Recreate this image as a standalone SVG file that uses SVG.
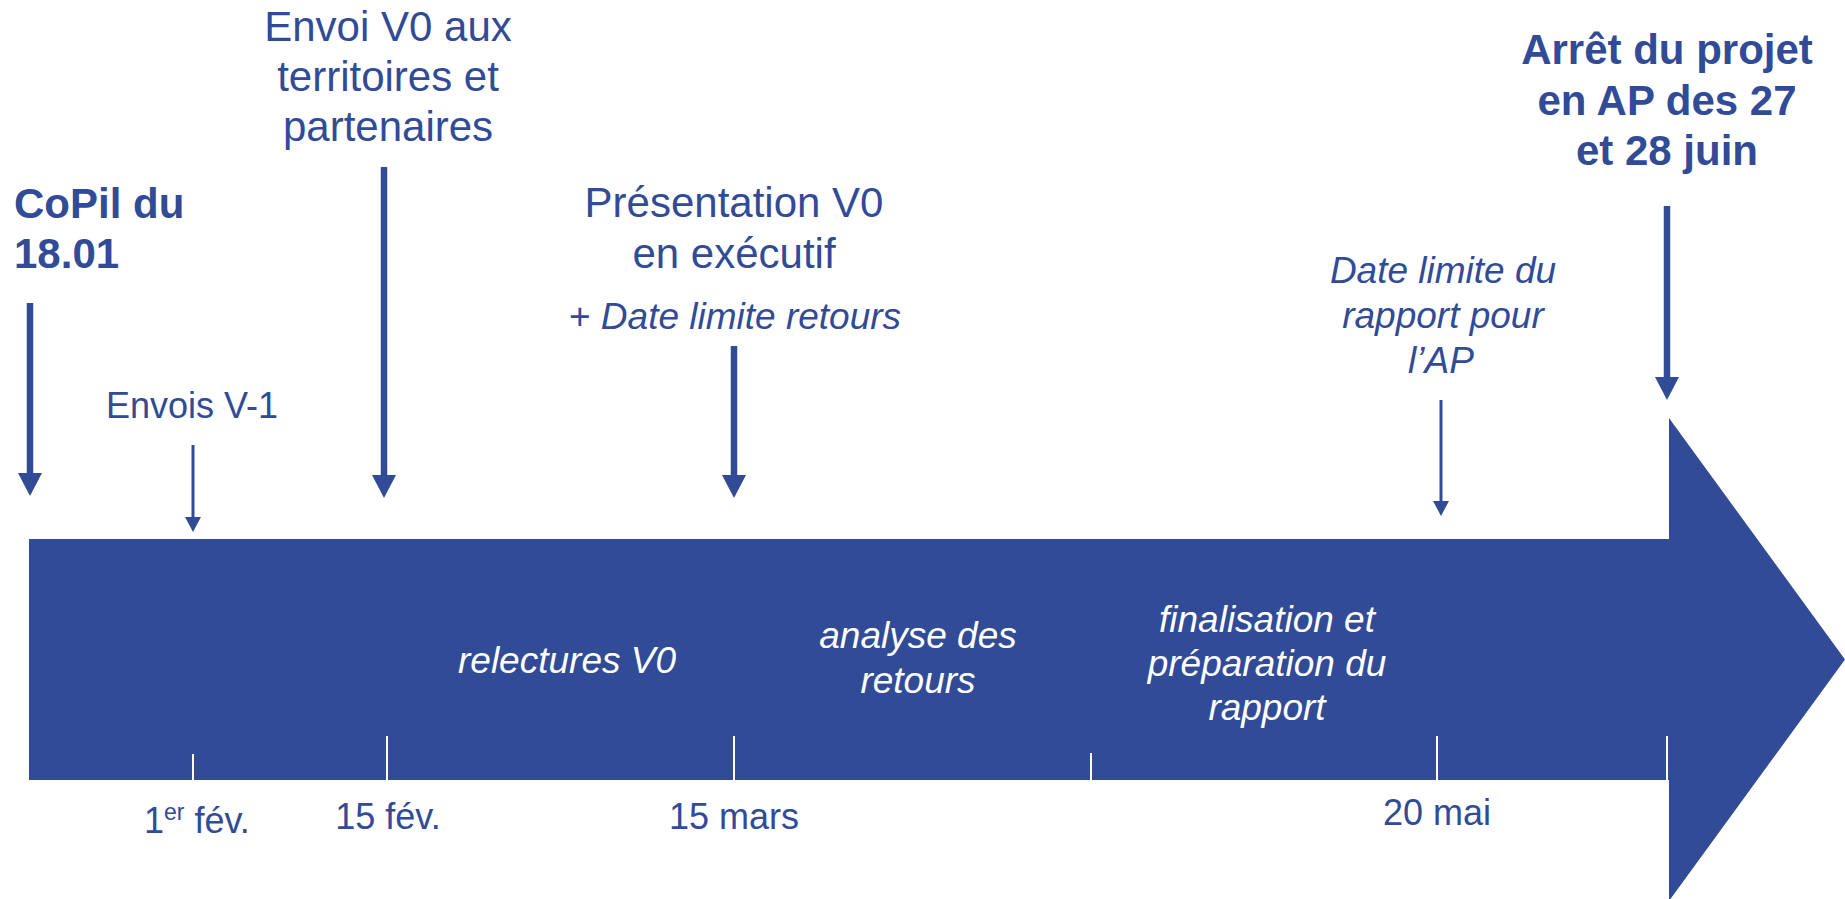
<svg xmlns="http://www.w3.org/2000/svg" width="1845" height="899" viewBox="0 0 1845 899">
<style>
.t{font-family:"Liberation Sans",Arial,sans-serif;fill:#314B97;}
.b{font-weight:bold;font-size:42px;}
.r42{font-size:42px;}
.i{font-style:italic;font-size:37px;}
.w{font-family:"Liberation Sans",Arial,sans-serif;fill:#FFFFFF;font-style:italic;font-size:37px;}
.d{font-size:36px;}
.thick{stroke:#314B97;stroke-width:6.5;fill:none;}
.thin{stroke:#314B97;stroke-width:3;fill:none;}
.tick{stroke:#FFFFFF;stroke-width:2;}
</style>
<defs>
<marker id="hb" markerUnits="userSpaceOnUse" viewBox="0 -12 24 24" refX="0" refY="0" markerWidth="24" markerHeight="24" orient="auto" overflow="visible">
<path d="M0,-12 L23,0 L0,12 Z" fill="#314B97"/>
</marker>
<marker id="hs" markerUnits="userSpaceOnUse" viewBox="0 -8 16 16" refX="0" refY="0" markerWidth="16" markerHeight="16" orient="auto" overflow="visible">
<path d="M0,-8 L15,0 L0,8 Z" fill="#314B97"/>
</marker>
</defs>
<rect width="1845" height="899" fill="#FFFFFF"/>

<g id="timeline">
<path d="M29,539 H1669 V418 L1845,659.5 L1669,901 V780 H29 Z" fill="#314B97"/>
<line class="tick" x1="193" y1="754" x2="193" y2="780"/>
<line class="tick" x1="387" y1="736" x2="387" y2="780"/>
<line class="tick" x1="734" y1="736" x2="734" y2="780"/>
<line class="tick" x1="1091" y1="753" x2="1091" y2="780"/>
<line class="tick" x1="1437" y1="736" x2="1437" y2="780"/>
<line class="tick" x1="1667" y1="736" x2="1667" y2="780"/>
</g>

<g id="connectors">
<line class="thick" x1="30" y1="303" x2="30" y2="473" marker-end="url(#hb)"/>
<line class="thick" x1="384" y1="167" x2="384" y2="475" marker-end="url(#hb)"/>
<line class="thick" x1="734" y1="346" x2="734" y2="475" marker-end="url(#hb)"/>
<line class="thick" x1="1667" y1="206" x2="1667" y2="377" marker-end="url(#hb)"/>
<line class="thin" x1="193" y1="445" x2="193" y2="517" marker-end="url(#hs)"/>
<line class="thin" x1="1441" y1="400" x2="1441" y2="501" marker-end="url(#hs)"/>
</g>

<g id="copil">
<text class="t b" x="14" y="218">CoPil du</text>
<text class="t b" x="14" y="268">18.01</text>
</g>

<g id="envois-v1">
<text class="t d" x="192" y="418" text-anchor="middle">Envois V-1</text>
</g>

<g id="envoi-v0">
<text class="t r42" x="388" y="41" text-anchor="middle">Envoi V0 aux</text>
<text class="t r42" x="388" y="91" text-anchor="middle">territoires et</text>
<text class="t r42" x="388" y="141" text-anchor="middle">partenaires</text>
</g>

<g id="presentation">
<text class="t r42" x="734" y="217" text-anchor="middle">Présentation V0</text>
<text class="t r42" x="734" y="268" text-anchor="middle">en exécutif</text>
<text class="t" x="735" y="329" text-anchor="middle" font-size="37">+ <tspan font-style="italic">Date limite retours</tspan></text>
</g>

<g id="date-limite">
<text class="t i" x="1443" y="283" text-anchor="middle">Date limite du</text>
<text class="t i" x="1443" y="328" text-anchor="middle">rapport pour</text>
<text class="t i" x="1441" y="373" text-anchor="middle">l’AP</text>
</g>

<g id="arret">
<text class="t b" x="1667" y="64" text-anchor="middle">Arrêt du projet</text>
<text class="t b" x="1667" y="115" text-anchor="middle">en AP des 27</text>
<text class="t b" x="1667" y="165" text-anchor="middle">et 28 juin</text>
</g>

<g id="relectures">
<text class="w" x="567" y="673" text-anchor="middle">relectures V0</text>
</g>

<g id="analyse">
<text class="w" x="918" y="648" text-anchor="middle">analyse des</text>
<text class="w" x="918" y="693" text-anchor="middle">retours</text>
</g>

<g id="finalisation">
<text class="w" x="1267" y="632" text-anchor="middle">finalisation et</text>
<text class="w" x="1267" y="676" text-anchor="middle">préparation du</text>
<text class="w" x="1267" y="720" text-anchor="middle">rapport</text>
</g>

<g id="dates">
<text class="t d" x="144" y="833">1<tspan font-size="23" dy="-13">er</tspan><tspan dy="13"> fév.</tspan></text>
<text class="t d" x="388" y="829" text-anchor="middle">15 fév.</text>
<text class="t d" x="734" y="829" text-anchor="middle">15 mars</text>
<text class="t d" x="1437" y="825" text-anchor="middle">20 mai</text>
</g>
</svg>
